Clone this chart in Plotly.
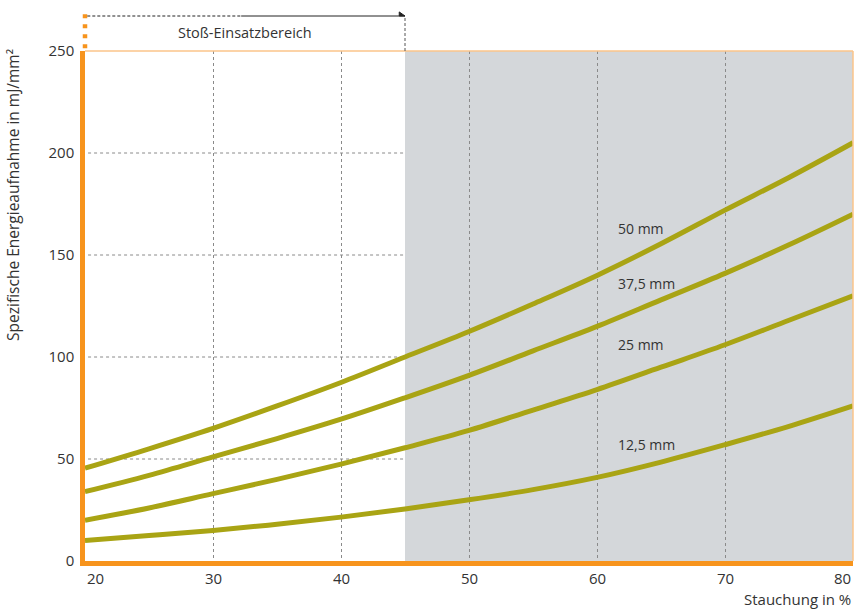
import plotly.graph_objects as go

# Data
stauchung = [20, 25, 30, 35, 40, 45, 50, 55, 60, 65, 70, 75, 80]
e_50 = [45.5, 55, 65, 76, 87.5, 100, 112.5, 126, 140, 155.5, 172, 188, 205]
e_375 = [34, 42, 51, 60, 69.5, 80, 91, 103, 115, 128, 141, 155, 170]
e_25 = [20, 26, 33, 40, 47.5, 55.5, 64, 74, 84, 95, 106, 118, 130]
e_125 = [10, 12.5, 15, 18, 21.5, 25.5, 30, 35, 41, 48.5, 57, 66, 76]
series = [("50 mm", e_50, 163), ("37,5 mm", e_375, 136), ("25 mm", e_25, 106), ("12,5 mm", e_125, 57)]
x_ticks = [20, 30, 40, 50, 60, 70, 80]
y_ticks = [0, 50, 100, 150, 200, 250]
zone_start, zone_end = 45, 80
label_x = 61.5

FONT = "Open Sans"
TXT = "#333333"
CURVE = "#a9a414"
ORANGE = "#f7941d"
LIGHT_ORANGE = "#fbc58a"
GRAY = "#d4d7da"
GRID = "#8a8a8a"

fig = go.Figure()
for name, vals, ly in series:
    fig.add_trace(go.Scatter(x=stauchung, y=vals, mode="lines", name=name,
                             line=dict(color=CURVE, width=5, shape="spline", smoothing=1.0),
                             showlegend=False, hoverinfo="skip"))
    fig.add_annotation(x=label_x, y=ly, text=name, showarrow=False, xanchor="left", yanchor="middle",
                       font=dict(family=FONT, size=14, color=TXT))

def px2paper(v):
    return (v - 20) / 60.0

# grey zone
fig.add_shape(type="rect", xref="x", yref="y", x0=zone_start, x1=zone_end, y0=0, y1=250,
              fillcolor=GRAY, line=dict(width=0), layer="below")
# top and right thin borders
fig.add_shape(type="line", xref="paper", yref="paper", x0=0, x1=1, y0=1, y1=1,
              line=dict(color=LIGHT_ORANGE, width=1.5))
fig.add_shape(type="line", xref="paper", yref="paper", x0=1, x1=1, y0=0, y1=1,
              line=dict(color=LIGHT_ORANGE, width=1.5))
# orange dotted extension above the y axis
fig.add_shape(type="line", xref="paper", yref="paper", x0=0, x1=0, y0=1.0055, y1=1.0834,
              line=dict(color=ORANGE, width=4.5, dash="4px,6px"))
# Stoß-Einsatzbereich bracket
top_y = 1.0686
xs = px2paper(zone_start)
fig.add_shape(type="line", xref="paper", yref="paper", x0=0.003, x1=px2paper(32.2), y0=top_y, y1=top_y,
              line=dict(color="#222222", width=1, dash="3px,2px"))
fig.add_shape(type="line", xref="paper", yref="paper", x0=px2paper(32.2), x1=xs, y0=top_y, y1=top_y,
              line=dict(color="#222222", width=1))
fig.add_shape(type="path", xref="paper", yref="paper",
              path=f"M {xs-0.0075} {top_y} L {xs-0.0075} {top_y+0.008} L {xs} {top_y} Z",
              fillcolor="#222222", line=dict(color="#222222", width=1))
fig.add_shape(type="line", xref="paper", yref="paper", x0=xs, x1=xs, y0=1.0, y1=top_y,
              line=dict(color="#555555", width=1, dash="3px,2px"))
fig.add_annotation(xref="paper", yref="paper", x=px2paper(32.5), y=1.0353, text="Stoß-Einsatzbereich",
                   showarrow=False, xanchor="center", yanchor="middle",
                   font=dict(family=FONT, size=14.5, color=TXT))

# x tick labels
for t in x_ticks:
    anchor = "left" if t == x_ticks[0] else ("right" if t == x_ticks[-1] else "center")
    fig.add_annotation(x=t, xref="x", yref="paper", y=-0.034, text=str(t), showarrow=False,
                       xanchor=anchor, yanchor="middle", font=dict(family=FONT, size=15, color=TXT))
# axis titles
fig.add_annotation(xref="paper", yref="paper", x=1.0, y=-0.0745, text="Stauchung in %", showarrow=False,
                   xanchor="right", yanchor="middle", font=dict(family=FONT, size=15, color=TXT))
fig.add_annotation(xref="paper", yref="paper", x=-0.0938, y=1.008, text="Spezifische Energieaufnahme in mJ/mm²",
                   showarrow=False, textangle=-90, xanchor="center", yanchor="top",
                   font=dict(family=FONT, size=15.5, color=TXT))

fig.update_layout(
    width=854, height=610,
    margin=dict(l=85, r=1, t=51, b=49),
    paper_bgcolor="white", plot_bgcolor="white",
    xaxis=dict(range=[20, 80], tickvals=x_ticks[1:-1], showticklabels=False,
               showgrid=True, gridcolor=GRID, griddash="3px,3px", gridwidth=1,
               showline=True, linecolor=ORANGE, linewidth=4.5, zeroline=False, fixedrange=True),
    yaxis=dict(range=[0, 250], tickvals=y_ticks, ticktext=[str(v) for v in y_ticks],
               showgrid=False, showline=True, linecolor=ORANGE, linewidth=4.5, zeroline=False,
               ticks="outside", ticklen=3, tickcolor="rgba(0,0,0,0)",
               tickfont=dict(family=FONT, size=15, color=TXT), fixedrange=True),
)
# horizontal gridlines (only interior values)
for v in y_ticks[1:-1]:
    fig.add_shape(type="line", xref="paper", yref="y", x0=0.004, x1=1, y0=v, y1=v,
                  line=dict(color=GRID, width=1, dash="3px,3px"), layer="between")

fig.write_html("out.html", config={"displayModeBar": False},
               post_script="document.documentElement.style.margin='0';document.body.style.margin='0';"
                           "document.documentElement.style.overflow='hidden';document.body.style.overflow='hidden';")
